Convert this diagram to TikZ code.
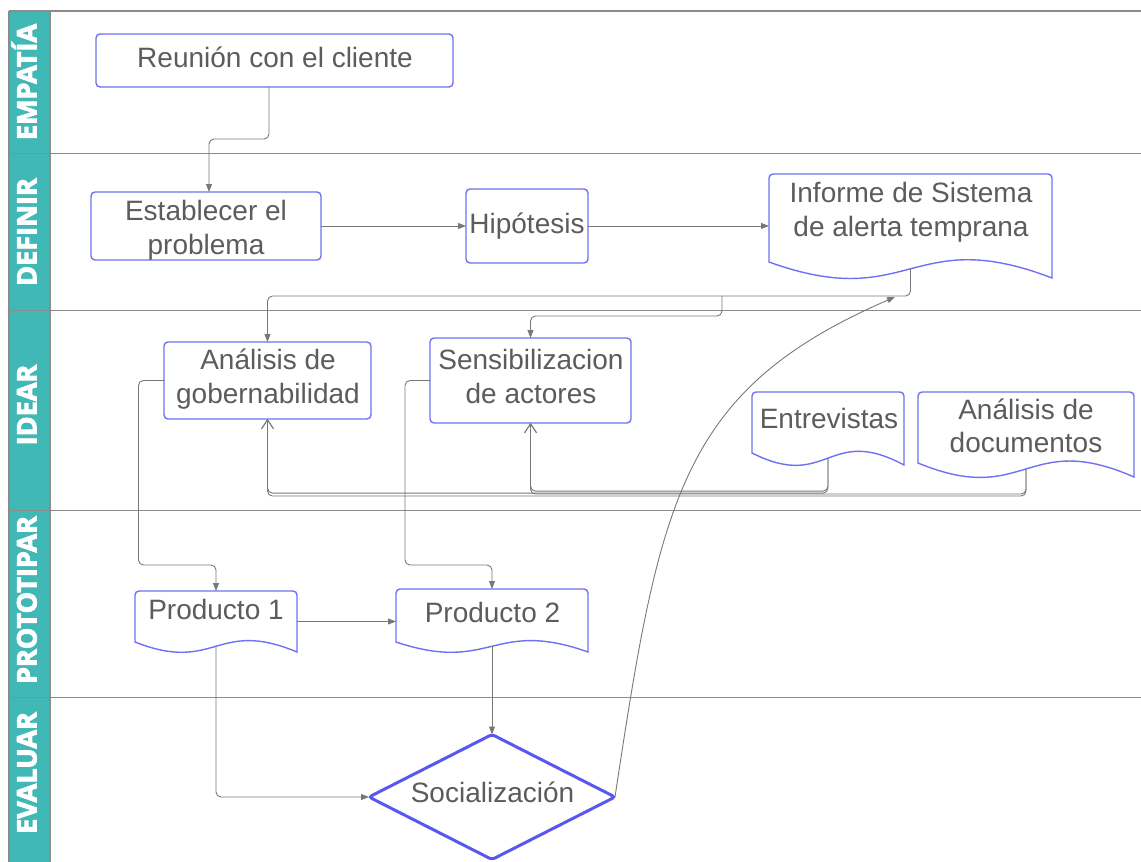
\documentclass[tikz,border=0pt]{standalone}
\usepackage{fontspec}
\setmainfont{Liberation Sans}
\newfontfamily\lanefont{Open Sans}
\usetikzlibrary{arrows.meta,shapes.geometric}
\definecolor{laneteal}{RGB}{64,184,181}
\definecolor{boxblue}{RGB}{112,112,245}
\definecolor{diablue}{RGB}{88,88,240}
\definecolor{txtgray}{RGB}{92,92,92}
\definecolor{conngray}{RGB}{120,120,120}
\definecolor{lanegray}{RGB}{140,140,140}
\newcommand{\mydocshape}[5]{%
  \draw[docbox] (#1,#4) [rounded corners=4pt] -- (#1,#2) -- (#3,#2) [sharp corners] -- (#3,#5)
    .. controls ({(#1+#3)/2},{#4-2.4*(#5-#4)}) and ({(#1+#3)/2},{#4+3.2*(#5-#4)}) .. (#1,#4) -- cycle;}
\newcommand{\heavy}[1]{\special{pdf:literal direct 2 Tr 0.9 w}#1\special{pdf:literal direct 0 Tr}}
\begin{document}
\begin{tikzpicture}[x=1pt,y=-1pt,
  every node/.style={inner sep=0pt, outer sep=0pt},
  txt/.style={font=\fontsize{28}{33.6}\selectfont, text=txtgray, align=center, anchor=base},
  box/.style={draw=boxblue, line width=1.4pt, rounded corners=4pt, fill=white},
  docbox/.style={draw=boxblue, line width=1.4pt, fill=white},
  shapebox/.style={draw=none},
  conn/.style={draw=conngray, line width=0.9pt, rounded corners=5pt, -{Triangle[length=8pt,width=6pt]}},
  connback/.style={draw=conngray, line width=0.9pt, rounded corners=5pt, -{Straight Barb[length=9pt,width=12pt]}},
  lane/.style={draw=lanegray, line width=1.2pt},
  lanelabel/.style={font=\lanefont\bfseries\fontsize{27}{30}\selectfont, text=white, rotate=90, anchor=base}
]
\useasboundingbox (0,0) rectangle (1141,862);
% swimlanes
\fill[laneteal] (9,11) rectangle (50,862);
\draw[lane] (9,11) -- (1141,11);
\draw[lane] (9,153.7) -- (1141,153.7);
\draw[lane] (9,310.3) -- (1141,310.3);
\draw[lane] (9,510.4) -- (1141,510.4);
\draw[lane] (9,697.8) -- (1141,697.8);
\draw[lane] (9,11) -- (9,862);
\draw[lane] (50,11) -- (50,862);
\node[lanelabel] (l-emp) at (36.5,82) {\heavy{EMPATÍA}};
\node[lanelabel] (l-def) at (36.5,232) {\heavy{DEFINIR}};
\node[lanelabel] (l-ide) at (36.5,405) {\heavy{IDEAR}};
\node[lanelabel] (l-pro) at (36.5,600) {\heavy{PROTOTIPAR}};
\node[lanelabel] (l-eva) at (36.5,773) {\heavy{EVALUAR}};

% shapes
\node[box, minimum width=357pt, minimum height=53pt] (reunion) at (274.5,60.5) {};
\node[box, minimum width=230pt, minimum height=68pt] (estab) at (206,226) {};
\node[box, minimum width=122pt, minimum height=74pt] (hipo) at (527,226) {};
\node[box, minimum width=207pt, minimum height=77pt] (gob) at (267.5,380.5) {};
\node[box, minimum width=201pt, minimum height=85pt] (sens) at (530.5,380.5) {};
\node[shapebox, minimum width=283pt, minimum height=104pt] (informe) at (910.5,226) {};
\node[shapebox, minimum width=152pt, minimum height=73pt] (entre) at (828,428.5) {};
\node[shapebox, minimum width=216pt, minimum height=85pt] (docs) at (1026,434.5) {};
\node[shapebox, minimum width=162pt, minimum height=61pt] (prod1) at (216,621.5) {};
\node[shapebox, minimum width=192pt, minimum height=63pt] (prod2) at (492,620.5) {};
\node[diamond, draw=diablue, line width=3pt, rounded corners=3pt, aspect=1.97,
      minimum width=246pt, minimum height=125pt, fill=white] (socia) at (492,797) {};

\mydocshape{769}{174}{1052}{262}{278}
\mydocshape{752}{392}{904}{453}{465}
\mydocshape{918}{392}{1134}{463}{477}
\mydocshape{135}{591}{297}{642}{652}
\mydocshape{396}{589}{588}{642}{652}

% texts (base anchor = baseline of the last line)
\node[txt] (reunion-t) at (275,67) {Reunión con el cliente};
\node[txt] (estab-t) at (206,254) {Establecer el\\problema};
\node[txt] (hipo-t) at (527,233) {Hipótesis};
\node[txt] (informe-t) at (911,236) {Informe de Sistema\\de alerta temprana};
\node[txt] (gob-t) at (268,403) {Análisis de\\gobernabilidad};
\node[txt] (sens-t) at (531,403) {Sensibilizacion\\de actores};
\node[txt] (entre-t) at (829,428) {Entrevistas};
\node[txt] (docs-t) at (1026,452.7) {Análisis de\\documentos};
\node[txt] (prod1-t) at (216,619.3) {Producto 1};
\node[txt] (prod2-t) at (492.5,622.3) {Producto 2};
\node[txt] (socia-t) at (492.5,802.7) {Socialización};

% connector helper points
\coordinate (inf-out) at ([yshift=9.2pt]informe.south);
\coordinate (inf-in) at ([xshift=-15.5pt,yshift=-19pt]informe.south);
\coordinate (br) at (722,296);
\coordinate (entre-out) at ([yshift=6.9pt]entre.south);
\coordinate (docs-out) at ([yshift=8pt]docs.south);
\coordinate (prod1-out) at ([yshift=5.75pt]prod1.south);
\coordinate (prod2-out) at ([yshift=5.75pt]prod2.south);

% connectors
\draw[conn] ([xshift=-5.5pt]reunion.south) -- ++(0,52) -| ([xshift=3pt]estab.north);
\draw[conn] (estab.east) -- (hipo.west);
\draw[conn] (hipo.east) -- (informe.west);
\draw[conn] (inf-out) -- ++(0,27.2) -| (gob.north);
\draw[conn] (br) -- ++(0,20) -| (sens.north);
\draw[conn] (gob.west) -- ++(-25.5,0) |- ([yshift=26pt]prod1.north) -- (prod1.north);
\draw[conn] (sens.west) -- ++(-25,0) |- ([yshift=24pt]prod2.north) -- (prod2.north);
\draw[conn] (prod1.east) -- (prod1.east -| prod2.west);
\draw[conn] (prod1-out) |- (socia.west);
\draw[conn] (prod2-out) -- (socia.north);
\draw[conn] (socia.east) .. controls (660,500) and (680,390) .. (inf-in);
\draw[connback] (entre-out) -- ++(0,33) -| (sens.south);
\draw[connback] (entre-out) -- ++(0,35) -| (gob.south);
\draw[connback] (docs-out) -- ++(0,27) -| (gob.south);
\draw[connback] (docs-out) -- ++(0,25) -| (sens.south);
\end{tikzpicture}
\end{document}
